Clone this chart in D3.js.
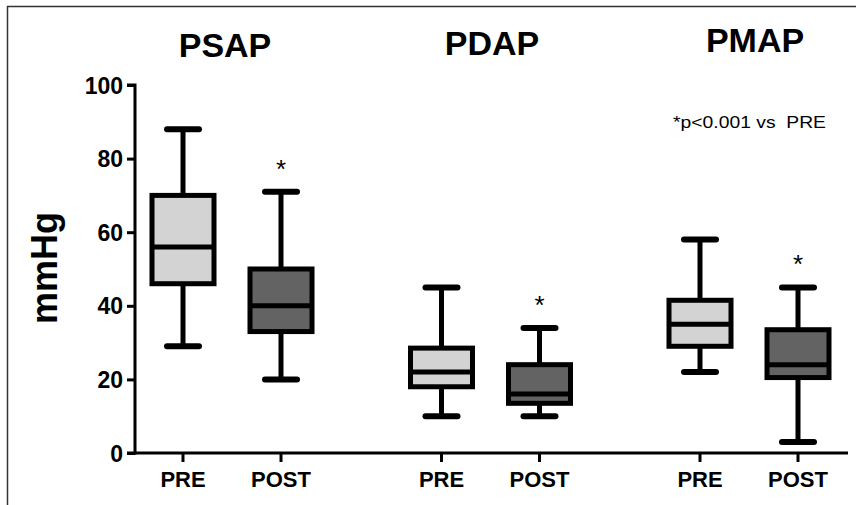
<!DOCTYPE html>
<html>
<head>
<meta charset="utf-8">
<script src="https://cdn.jsdelivr.net/npm/d3@7"></script>
<style>
  body { margin: 0; background: #fff; }
  text { font-family: Arial, "Liberation Sans", sans-serif; }
</style>
</head>
<body>
<script>
'use strict';

// data ==================================
var groups = ['PSAP', 'PDAP', 'PMAP'];
var conditions = ['PRE', 'POST'];
// one entry per box, order: PSAP PRE, PSAP POST, PDAP PRE, PDAP POST, PMAP PRE, PMAP POST
var whiskerHigh = [88, 71, 45, 34, 58, 45];
var q3 = [70, 50, 28.5, 24, 41.5, 33.5];
var median = [56, 40, 22, 16, 35, 24];
var q1 = [46, 33, 18, 13.5, 29, 20.5];
var whiskerLow = [29, 20, 10, 10, 22, 3];
var significant = [false, true, false, true, false, true];
var yTicks = [0, 20, 40, 60, 80, 100];

var width = 856, height = 505;

var svg = d3.select('body').append('svg')
  .attr('width', width)
  .attr('height', height);

// frame lines (top + left)
svg.append('line').attr('x1', 7).attr('x2', width).attr('y1', 6.5).attr('y2', 6.5)
  .attr('stroke', '#333').attr('stroke-width', 1.5);
svg.append('line').attr('x1', 7.5).attr('x2', 7.5).attr('y1', 6).attr('y2', height)
  .attr('stroke', '#333').attr('stroke-width', 1.5);

// scales
var y = d3.scaleLinear().domain([0, 100]).range([453, 85]);
var xGroup = d3.scalePoint().domain(groups).range([232, 749]);
var xCond = d3.scalePoint().domain(conditions).range([-49, 49]);

var boxes = [];
groups.forEach(function (g, gi) {
  conditions.forEach(function (c, ci) {
    var i = gi * 2 + ci;
    boxes.push({
      group: g, cond: c,
      x: xGroup(g) + xCond(c),
      hi: whiskerHigh[i], q3: q3[i], med: median[i], q1: q1[i], lo: whiskerLow[i],
      sig: significant[i]
    });
  });
});

// y axis
var yAxis = d3.axisLeft(y).tickValues(yTicks).tickSize(8).tickPadding(4);
var yg = svg.append('g').attr('transform', 'translate(135,0)').call(yAxis);
yg.select('.domain').attr('stroke-width', 3).attr('d', 'M-8,' + y(100) + 'H0V' + y(0) + 'H-8');
yg.selectAll('.tick line').attr('stroke-width', 3);
yg.selectAll('.tick text')
  .style('font-size', '23px').style('font-weight', 'bold').attr('fill', '#000')
  .attr('dy', '0.35em');

svg.append('text')
  .attr('transform', 'translate(57,268) rotate(-90)')
  .attr('text-anchor', 'middle')
  .style('font-size', '36px').style('font-weight', 'bold')
  .text('mmHg');

// x axis
svg.append('line')
  .attr('x1', 135).attr('x2', 848).attr('y1', y(0)).attr('y2', y(0))
  .attr('stroke', '#000').attr('stroke-width', 3);

svg.selectAll('.xtick').data(boxes).enter().append('line')
  .attr('x1', function (d) { return d.x; }).attr('x2', function (d) { return d.x; })
  .attr('y1', y(0)).attr('y2', y(0) + 9)
  .attr('stroke', '#000').attr('stroke-width', 3);

svg.selectAll('.xlabel').data(boxes).enter().append('text')
  .attr('x', function (d) { return d.x; })
  .attr('y', 487)
  .attr('text-anchor', 'middle')
  .style('font-size', '22px').style('font-weight', 'bold')
  .text(function (d) { return d.cond; });

// group titles
var titleY = [57, 55, 52];
svg.selectAll('.gtitle').data(groups).enter().append('text')
  .attr('x', function (d, i) { return [225, 492, 755][i]; })
  .attr('y', function (d, i) { return titleY[i]; })
  .attr('text-anchor', 'middle')
  .style('font-size', '34px').style('font-weight', 'bold')
  .text(function (d) { return d; });

// boxes
var boxW = 62, capW = 32;
var bg = svg.selectAll('.box').data(boxes).enter().append('g');

bg.append('line')
  .attr('x1', function (d) { return d.x; }).attr('x2', function (d) { return d.x; })
  .attr('y1', function (d) { return y(d.hi); }).attr('y2', function (d) { return y(d.lo); })
  .attr('stroke', '#000').attr('stroke-width', 5);

bg.selectAll('.cap').data(function (d) { return [[d.x, d.hi], [d.x, d.lo]]; }).enter().append('line')
  .attr('x1', function (d) { return d[0] - capW / 2; }).attr('x2', function (d) { return d[0] + capW / 2; })
  .attr('y1', function (d) { return y(d[1]); }).attr('y2', function (d) { return y(d[1]); })
  .attr('stroke', '#000').attr('stroke-width', 6).attr('stroke-linecap', 'round');

bg.append('rect')
  .attr('x', function (d) { return d.x - boxW / 2; })
  .attr('y', function (d) { return y(d.q3); })
  .attr('width', boxW)
  .attr('height', function (d) { return y(d.q1) - y(d.q3); })
  .attr('fill', function (d) { return d.cond === 'PRE' ? '#d3d3d3' : '#636363'; })
  .attr('stroke', '#000').attr('stroke-width', 5);

bg.append('line')
  .attr('x1', function (d) { return d.x - boxW / 2; }).attr('x2', function (d) { return d.x + boxW / 2; })
  .attr('y1', function (d) { return y(d.med); }).attr('y2', function (d) { return y(d.med); })
  .attr('stroke', '#000').attr('stroke-width', 5);

// significance stars
svg.selectAll('.star').data(boxes.filter(function (d) { return d.sig; })).enter().append('text')
  .attr('x', function (d) { return d.x; })
  .attr('y', function (d) { return y(d.hi) - 14; })
  .attr('text-anchor', 'middle')
  .style('font-size', '26px')
  .text('*');

svg.append('text')
  .attr('x', 673).attr('y', 128)
  .attr('xml:space', 'preserve')
  .style('white-space', 'pre')
  .style('font-size', '17px')
  .attr('textLength', 153)
  .attr('lengthAdjust', 'spacingAndGlyphs')
  .text('*p<0.001 vs  PRE');
</script>
</body>
</html>
